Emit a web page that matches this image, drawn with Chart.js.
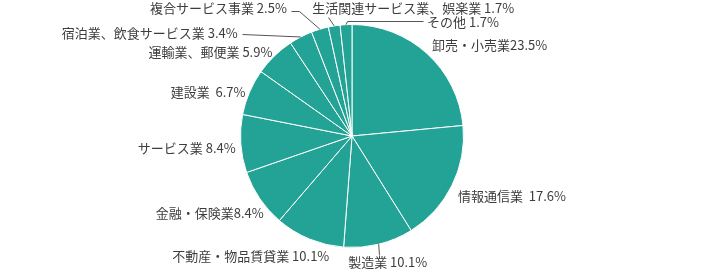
<!DOCTYPE html>
<html>
<head>
<meta charset="utf-8">
<script src="https://cdn.jsdelivr.net/npm/chart.js@4"></script>
<style>
  html, body { margin: 0; padding: 0; background: #fff; }
  #pieChart { display: block; }
</style>
</head>
<body>
<canvas id="pieChart" width="705" height="271"></canvas>
<script>
// categories, clockwise from 12 o'clock
const categories = [
    "卸売・小売業", "情報通信業", "製造業", "不動産・物品賃貸業",
    "金融・保険業", "サービス業", "建設業", "運輸業、郵便業",
    "宿泊業、飲食サービス業", "複合サービス事業", "生活関連サービス業、娯楽業", "その他"
];
// share in %
const shares = [23.5, 17.6, 10.1, 10.1, 8.4, 8.4, 6.7, 5.9, 3.4, 2.5, 1.7, 1.7];

const PIE_COLOR = "#22a396";
const TEXT_COLOR = "#3d3d3d";

// label placement relative to the slice's outer edge point (dx, dy), gap between name and value
const labelLayout = [
    {dx: 5, dy: -8, align: "left", gap: ""},
    {dx: 6, dy: 11, align: "left", gap: "  "},
    {dx: 9, dy: 18, align: "center", gap: " ", leader: "down"},
    {dx: 20, dy: 17, align: "right", gap: " "},
    {dx: 4, dy: 14, align: "right", gap: ""},
    {dx: -5, dy: 4, align: "right", gap: " "},
    {dx: -4, dy: 0, align: "right", gap: "  "},
    {dx: -2, dy: -4, align: "right", gap: " "},
    {dx: -63, dy: -4, align: "right", gap: " ", leader: "line", ly: 1},
    {dx: -33, dy: -21, align: "right", gap: " ", leader: "h", ly: 3},
    {dx: -22, dy: -18, align: "left", gap: " ", leader: "under"},
    {dx: 81, dy: -3, align: "left", gap: " ", leader: "v", ly: -1},
];

// draws the outside labels and the leader lines
const outsideLabels = {
    id: "outsideLabels",
    afterDraw(chart) {
        const ctx = chart.ctx;
        const arcs = chart.getDatasetMeta(0).data;
        ctx.save();
        ctx.font = "13px 'Noto Sans CJK JP', 'Noto Sans', sans-serif";
        ctx.fillStyle = TEXT_COLOR;
        ctx.strokeStyle = "#555";
        ctx.lineWidth = 1;
        ctx.textBaseline = "middle";
        arcs.forEach((arc, i) => {
            const lay = labelLayout[i];
            const mid = (arc.startAngle + arc.endAngle) / 2;
            const edge = {
                x: arc.x + Math.cos(mid) * arc.outerRadius,
                y: arc.y + Math.sin(mid) * arc.outerRadius,
            };
            const tx = edge.x + lay.dx;
            const ty = edge.y + lay.dy;
            const text = categories[i] + lay.gap + shares[i].toFixed(1) + "%";
            const w = ctx.measureText(text).width;

            if (lay.leader) {
                let pts = [];
                const lineY = ty + (lay.ly || 0);
                const endX = lay.align === "left" ? tx - 4 : tx + 4;
                if (lay.leader === "down") {
                    pts = [edge, {x: edge.x, y: ty - 7}];
                } else if (lay.leader === "line") {
                    pts = [edge, {x: endX, y: lineY}];
                } else if (lay.leader === "h") {
                    pts = [edge, {x: endX + 8, y: lineY}, {x: endX, y: lineY}];
                } else if (lay.leader === "v") {
                    pts = [edge, {x: edge.x + 1, y: lineY}, {x: endX, y: lineY}];
                } else if (lay.leader === "under") {
                    pts = [edge, {x: edge.x - 6, y: ty + 9}];
                }
                ctx.beginPath();
                pts.forEach((p, k) => {
                    if (k === 0) ctx.moveTo(p.x, p.y);
                    else ctx.lineTo(Math.round(p.x) + 0.5, Math.round(p.y) + 0.5);
                });
                ctx.stroke();
            }

            let left = tx;
            if (lay.align === "right") left = tx - w;
            if (lay.align === "center") left = tx - w / 2;
            ctx.textAlign = "left";
            ctx.fillText(text, left, ty);
        });
        ctx.restore();
    }
};

const chart = new Chart(document.getElementById("pieChart"), {
    type: "pie",
    data: {
        labels: categories,
        datasets: [{
            data: shares,
            backgroundColor: PIE_COLOR,
            borderColor: "#ffffff",
            borderWidth: 1,
        }],
    },
    options: {
        responsive: false,
        animation: false,
        layout: {padding: {top: 24, bottom: 23, left: 0, right: 1}},
        plugins: {
            legend: {display: false},
            tooltip: {enabled: false},
        },
    },
    plugins: [outsideLabels],
});
</script>
</body>
</html>
